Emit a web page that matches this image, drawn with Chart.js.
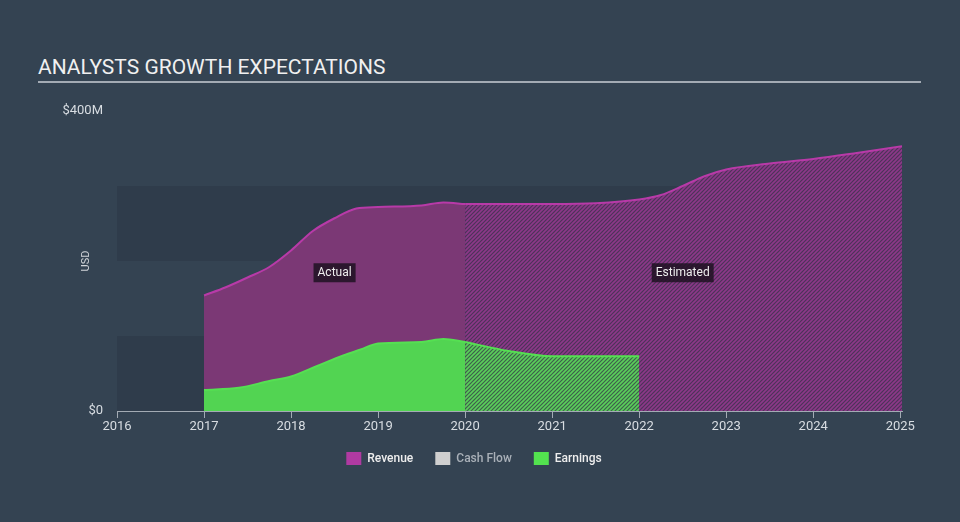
<!DOCTYPE html>
<html>
<head>
<meta charset="utf-8">
<script src="https://cdn.jsdelivr.net/npm/chart.js@4"></script>
<style>
  html, body { margin: 0; padding: 0; background: #344352; }
  #wrap { position: relative; width: 960px; height: 522px; }
  #title {
    position: absolute; left: 38px; top: 55px; width: 883px;
    font: 21px Roboto, sans-serif; color: #f0f0f0;
    border-bottom: 2px solid #a3abb4; padding-bottom: 1px; line-height: 25px;
  }
  canvas { position: absolute; left: 0; top: 0; }
</style>
</head>
<body>
<div id="wrap">
  <div id="title">ANALYSTS GROWTH EXPECTATIONS</div>
  <canvas id="growthChart" width="960" height="522"></canvas>
</div>
<script>
// revenue, $M
var revActualX = [2017, 2017.25, 2017.5, 2017.75, 2018, 2018.25, 2018.5, 2018.75, 2019, 2019.5, 2019.75, 2020];
var revActualY = [154, 165, 178, 192, 214, 240, 257, 270, 272, 274, 278, 276];
var revEstX = [2020, 2021, 2021.5, 2022, 2022.25, 2022.5, 2022.75, 2023, 2023.5, 2024, 2024.5, 2025.02];
var revEstY = [276, 276, 277, 282, 288, 300, 313, 322, 330, 336, 344, 353];
// earnings, $M
var earnActualX = [2017, 2017.4, 2017.75, 2018, 2018.3, 2018.6, 2018.8, 2019, 2019.5, 2019.75, 2020];
var earnActualY = [28, 31, 40, 46, 60, 74, 82, 90, 92, 96, 92];
var earnEstX = [2020, 2020.5, 2021, 2021.5, 2022];
var earnEstY = [92, 80, 73, 73, 73];

var yTicks = [0, 400];
var legendNames = ['Revenue', 'Cash Flow', 'Earnings'];
var legendColors = ['#b03aa2', '#cfcfcf', '#53e24f'];

function pts(xs, ys) {
    return xs.map(function (x, i) { return { x: x, y: ys[i] }; });
}

function hatch(base, stripe) {
    var c = document.createElement('canvas');
    c.width = 4; c.height = 4;
    var g = c.getContext('2d');
    g.fillStyle = base;
    g.fillRect(0, 0, 4, 4);
    g.strokeStyle = stripe;
    g.lineWidth = 1.6;
    g.beginPath();
    g.moveTo(0, 4); g.lineTo(4, 0);
    g.moveTo(-1, 1); g.lineTo(1, -1);
    g.moveTo(3, 5); g.lineTo(5, 3);
    g.stroke();
    return g.createPattern(c, 'repeat');
}

var bands = {
    id: 'bands',
    afterLayout: function (chart) {
        // legend sits a little right of centre in the original
        chart.legend.left += 23;
        chart.legend.right += 23;
    },
    beforeDatasetsDraw: function (chart) {
        var ctx = chart.ctx, xs = chart.scales.x, ys = chart.scales.y;
        ctx.save();
        ctx.fillStyle = '#2f3c4b';
        [[0, 100], [200, 300]].forEach(function (b) {
            var top = ys.getPixelForValue(b[1]), bot = ys.getPixelForValue(b[0]);
            ctx.fillRect(xs.left, top, xs.right - xs.left, bot - top);
        });
        ctx.restore();
    }
};

var tags = {
    id: 'tags',
    afterDatasetsDraw: function (chart) {
        var ctx = chart.ctx, xs = chart.scales.x, ys = chart.scales.y;
        ctx.save();
        ctx.font = '12px Roboto, sans-serif';
        ctx.textAlign = 'center';
        ctx.textBaseline = 'middle';
        [['Actual', 2018.5], ['Estimated', 2022.5]].forEach(function (t) {
            var x = xs.getPixelForValue(t[1]), y = ys.getPixelForValue(185);
            var w = ctx.measureText(t[0]).width + 8;
            ctx.fillStyle = 'rgba(30,18,34,0.85)';
            ctx.fillRect(x - w / 2, y - 9, w, 19);
            ctx.fillStyle = '#eeeeee';
            ctx.fillText(t[0], x, y + 1);
        });
        // axis unit
        ctx.translate(chart.chartArea.left - 31, ys.getPixelForValue(200));
        ctx.rotate(-Math.PI / 2);
        ctx.fillStyle = '#d0d4d8';
        ctx.font = '11px Roboto, sans-serif';
        ctx.fillText('USD', 0, 0);
        ctx.restore();
    }
};

document.addEventListener('DOMContentLoaded', function () {
    var ctx = document.getElementById('growthChart').getContext('2d');
    var common = { pointRadius: 0, borderWidth: 2, cubicInterpolationMode: 'monotone', fill: 'origin' };
    new Chart(ctx, {
        type: 'line',
        data: {
            datasets: [
                Object.assign({ label: 'Earnings', data: pts(earnActualX, earnActualY),
                    borderColor: '#55e052', backgroundColor: '#52d452' }, common),
                Object.assign({ label: 'Earnings est', data: pts(earnEstX, earnEstY),
                    borderColor: '#55e052', backgroundColor: hatch('#3e5f4c', '#5ad05a') }, common),
                Object.assign({ label: 'Revenue', data: pts(revActualX, revActualY),
                    borderColor: '#b83aa8', backgroundColor: '#7b3875' }, common),
                Object.assign({ label: 'Revenue est', data: pts(revEstX, revEstY),
                    borderColor: '#b83aa8', backgroundColor: hatch('#4d3359', '#8d3889') }, common)
            ]
        },
        options: {
            responsive: false,
            animation: false,
            layout: { padding: { top: 111, right: 58, bottom: 47, left: 0 } },
            plugins: {
                tooltip: { enabled: false },
                legend: {
                    position: 'bottom',
                    labels: {
                        boxWidth: 15, boxHeight: 13, padding: 22,
                        font: { family: 'Roboto', size: 12, weight: '500' },
                        generateLabels: function () {
                            return legendNames.map(function (n, i) {
                                return { text: n, fillStyle: legendColors[i], strokeStyle: legendColors[i],
                                    lineWidth: 0, fontColor: i === 1 ? '#a9b0b8' : '#eeeeee', datasetIndex: i };
                            });
                        }
                    }
                }
            },
            scales: {
                x: {
                    type: 'linear', min: 2016, max: 2025.02,
                    afterFit: function (s) { s.height = 19; },
                    afterBuildTicks: function (s) {
                        s.ticks = [2016, 2017, 2018, 2019, 2020, 2021, 2022, 2023, 2024, 2025].map(function (v) { return { value: v }; });
                    },
                    grid: { drawOnChartArea: false, color: '#a3abb4', tickLength: 7, lineWidth: 1 },
                    border: { color: '#a3abb4', width: 1 },
                    ticks: {
                        color: '#d8dde2', font: { family: 'Roboto', size: 13 }, padding: 1,
                        maxRotation: 0,
                        callback: function (v) { return String(v); }
                    }
                },
                y: {
                    min: 0, max: 400,
                    afterFit: function (s) { s.width = 117; },
                    afterBuildTicks: function (s) {
                        s.ticks = yTicks.map(function (v) { return { value: v }; });
                    },
                    grid: { display: false },
                    border: { display: false },
                    ticks: {
                        color: '#d8dde2', font: { family: 'Roboto', size: 13 }, padding: 6,
                        callback: function (v) { return v === 0 ? '$0' : '$' + v + 'M'; }
                    }
                }
            }
        },
        plugins: [bands, tags]
    });
});
</script>
</body>
</html>
